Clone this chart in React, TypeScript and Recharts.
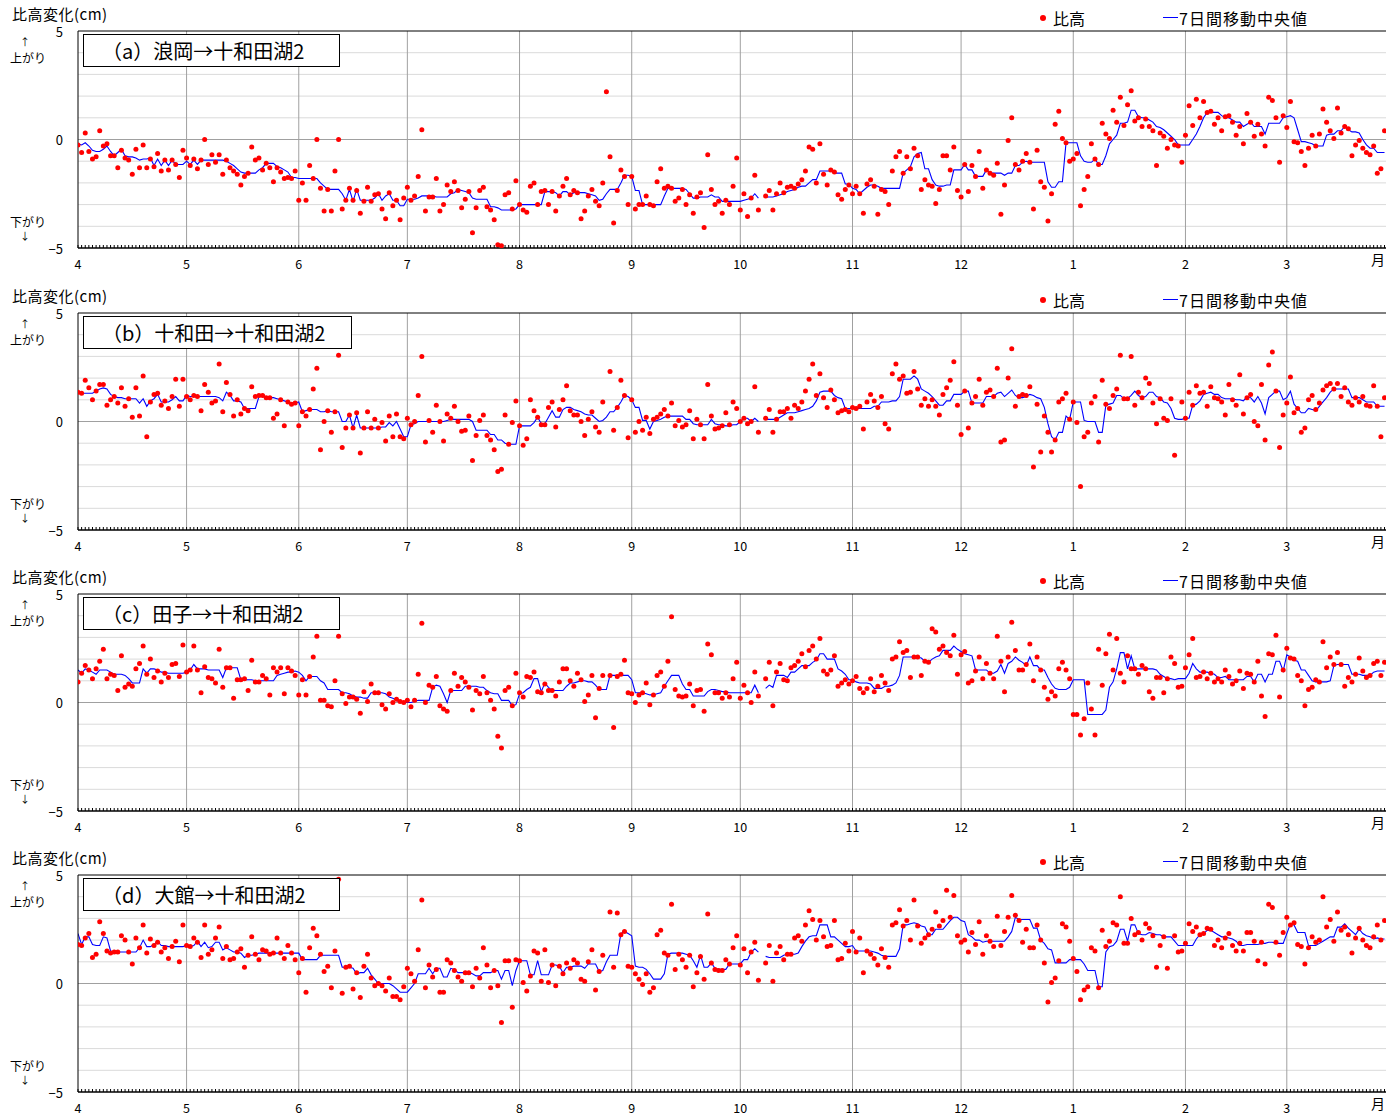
import React from 'react';
import { ComposedChart, Line, XAxis, YAxis, ReferenceLine } from 'recharts';

// Day index 0 = 4/1 ... month starts (days)
const monthStarts = [0, 30, 61, 91, 122, 153, 183, 214, 244, 275, 306, 334];
const monthLabels = ['4', '5', '6', '7', '8', '9', '10', '11', '12', '1', '2', '3'];
const yTicks = [-5, 0, 5];
const yTickLabels = ['−5', '0', '5'];
const gridValues = [-4, -3, -2, -1, 1, 2, 3, 4];
const dayTicks = Array.from({ length: 366 }, (_, i) => i);

const titles = ['（a）浪岡→十和田湖2', '（b）十和田→十和田湖2', '（c）田子→十和田湖2', '（d）大館→十和田湖2'];

// ---------- (a) 浪岡→十和田湖2 ----------
const dotsA: (number | null)[] = [
  -0.25,-0.6,0.3,-0.55,-0.9,-0.8,0.4,-0.3,-0.2,-0.75,-0.75,-1.3,-0.5,-0.85,-0.95,-1.6,-0.45,-1.3,-0.25,-1.3,-0.9,-1.25,-0.65,-1.45,-0.95,-1.4,-0.95,-1.15,-1.75,-0.5,
  -0.85,-1.2,-0.9,-1.35,-0.95,0.0,-1.15,-0.7,-1.05,-0.7,-1.6,-0.95,-1.3,-1.45,-1.6,-2.1,-1.7,-1.55,-0.35,-0.95,-0.85,-1.4,-1.1,-1.3,-1.95,-1.3,-1.5,-1.8,-1.75,-1.8,-1.45,
  -2.8,-2.0,-2.8,-1.2,-1.8,0.0,-2.25,-3.3,-2.3,-3.3,-1.45,0.0,-3.2,-2.8,-2.25,-2.8,-2.35,-3.4,-2.85,-2.2,-2.85,-2.55,-2.5,-3.2,-3.65,-2.45,-3.05,-2.8,-3.7,-2.7,
  -2.2,-2.8,-2.6,-1.7,0.45,-3.3,-2.65,-2.65,-1.8,-3.3,-3.0,-2.1,-2.4,-1.95,-2.35,-3.15,-2.75,-2.4,-4.3,-3.15,-2.35,-2.2,-3.1,-3.25,-3.7,-4.85,-4.9,-2.55,-2.45,-3.2,-1.9,
  -3.0,-3.25,-3.35,-2.15,-2.0,-3.0,-2.4,-2.35,-3.0,-2.4,-3.3,-2.6,-2.15,-1.8,-2.55,-2.35,-2.45,-3.65,-3.3,-2.6,-2.3,-2.85,-3.05,-2.0,2.2,-0.8,-3.85,-2.35,-1.4,-1.7,-3.0,
  -1.7,-3.2,-3.0,-3.0,-2.6,-3.0,-3.05,-1.95,-1.35,-2.25,-2.15,-2.25,-2.85,-2.7,-2.3,-3.0,-2.55,-3.4,-2.65,-2.45,-4.05,-0.7,-2.3,-3.0,-2.85,-3.4,-2.8,-3.0,-2.15,-0.85,
  -3.25,-2.5,-3.55,-2.7,-1.65,-3.25,null,-2.6,-2.35,-3.25,-2.5,-2.0,-2.45,-2.2,-2.15,-2.25,-2.05,-1.85,-1.45,-0.35,-0.45,-2.0,-0.2,-1.6,-2.1,-1.4,-1.5,-2.55,-2.75,-2.3,-2.1,
  -2.5,-2.15,-2.5,-3.4,-2.05,-1.85,-2.15,-3.45,-2.3,-2.4,-3.0,-1.45,-0.8,-0.55,-1.55,-0.8,-1.35,-0.4,-0.75,-2.3,-1.85,-2.1,-2.15,-2.95,-2.3,-0.75,-0.75,-1.4,-0.35,-2.35,
  -2.65,-1.15,-2.4,-1.2,-1.7,-0.55,-2.25,-1.4,-1.55,-1.65,-1.1,-3.45,-2.1,-0.05,1.0,-1.15,-1.4,-1.0,-0.65,-1.05,-3.2,-0.5,-1.95,-2.2,-3.75,-2.5,0.7,1.3,0.05,-0.15,-1.0,
  -0.9,-0.65,-3.05,-2.3,-1.7,-0.2,-0.9,-1.15,0.75,0.25,0.05,1.35,0.8,1.95,0.65,1.6,2.25,0.85,1.0,0.6,0.95,0.6,0.4,-1.2,0.3,0.15,-0.4,0.0,-0.25,-0.3,-1.05,
  0.2,1.55,0.65,1.85,1.0,1.75,1.25,1.3,0.7,1.0,0.4,1.05,1.1,0.8,0.2,0.6,-0.2,1.2,0.8,0.15,0.7,0.25,-0.3,1.95,1.8,1.0,-1.05,1.1,
  0.55,1.75,-0.1,-0.15,-0.55,-1.2,-0.4,0.2,-0.3,0.25,1.4,0.8,0.4,0.05,1.45,0.3,0.6,0.5,-0.75,-0.25,-0.05,-0.4,-0.6,-0.7,-0.3,-1.55,-1.35,0.4,
];
const medA: (number | null)[] = [
  -0.2,-0.25,-0.15,-0.3,-0.5,-0.55,-0.55,-0.45,-0.3,-0.55,-0.75,-0.6,-0.45,-0.75,-0.8,-0.8,-0.85,-0.95,-0.9,-0.9,-0.85,-1.2,-0.9,-1.2,-0.95,-1.2,-0.95,-1.15,-1.15,-1.15,
  -1.0,-1.15,-0.95,-1.15,-0.95,-0.95,-0.95,-0.95,-0.95,-0.95,-0.95,-1.0,-1.1,-1.2,-1.35,-1.5,-1.55,-1.55,-1.55,-1.55,-1.4,-1.3,-1.1,-1.1,-1.1,-1.25,-1.3,-1.4,-1.5,-1.75,-1.75,
  -1.8,-1.8,-1.8,-1.8,-1.8,-1.8,-2.0,-2.15,-2.3,-2.3,-2.3,-2.3,-2.5,-2.8,-2.3,-2.85,-2.3,-2.8,-2.8,-2.8,-2.8,-2.7,-2.5,-2.8,-2.6,-2.5,-2.8,-2.8,-3.05,-3.05,
  -2.75,-2.75,-2.75,-2.7,-2.6,-2.6,-2.6,-2.6,-2.65,-2.65,-2.65,-2.65,-2.5,-2.45,-2.3,-2.35,-2.4,-2.45,-2.7,-2.75,-2.75,-2.75,-2.75,-3.1,-3.1,-3.15,-3.25,-3.25,-3.25,-3.25,-3.2,
  -3.0,-3.0,-3.0,-3.0,-3.0,-3.0,-3.0,-2.4,-2.4,-2.4,-2.45,-2.6,-2.4,-2.4,-2.55,-2.45,-2.45,-2.45,-2.45,-2.5,-2.55,-2.6,-2.8,-2.75,-2.5,-2.3,-2.3,-2.3,-2.0,-1.65,-1.65,
  -1.7,-2.35,-2.35,-3.0,-3.0,-3.0,-3.0,-3.0,-3.0,-2.6,-2.25,-2.25,-2.25,-2.25,-2.25,-2.3,-2.5,-2.7,-2.7,-2.65,-2.65,-2.65,-2.55,-2.65,-2.65,-2.85,-2.85,-2.85,-2.85,-2.85,
  -2.85,-2.8,-2.75,-2.7,-2.5,-2.7,null,-2.65,-2.65,-2.65,-2.6,-2.55,-2.5,-2.4,-2.35,-2.3,-2.2,-2.15,-2.15,-2.0,-1.85,-1.85,-1.45,-1.45,-1.45,-1.45,-1.55,-1.55,-1.55,-2.05,-2.05,
  -2.25,-2.3,-2.5,-2.35,-2.2,-2.1,-2.1,-2.15,-2.25,-2.25,-2.25,-2.25,-2.25,-2.25,-1.55,-1.4,-1.25,-0.8,-0.65,-0.6,-1.35,-1.35,-1.85,-2.1,-2.15,-2.15,-2.1,-2.1,-1.4,-1.4,
  -1.4,-1.15,-1.4,-1.4,-1.7,-1.7,-1.7,-1.4,-1.55,-1.55,-1.55,-1.55,-1.65,-1.55,-1.55,-1.2,-1.2,-1.05,-1.0,-1.05,-1.05,-1.05,-1.05,-1.05,-1.95,-2.2,-2.2,-1.95,-1.95,-0.15,-0.15,
  -0.15,-0.15,-0.75,-1.0,-1.05,-1.05,-0.9,-1.15,-1.15,-0.75,-0.2,0.0,0.2,0.75,0.75,0.8,1.35,1.35,1.05,1.0,1.0,0.9,0.8,0.6,0.55,0.45,0.3,0.15,0.0,-0.25,-0.25,
  -0.25,-0.25,0.0,0.25,0.6,1.0,1.25,1.25,1.25,1.25,1.1,1.0,1.0,0.9,0.8,0.8,0.6,0.7,0.8,0.6,0.6,0.6,0.25,0.75,0.75,0.75,0.75,1.0,
  1.05,1.1,1.0,0.45,-0.1,-0.1,-0.15,-0.2,-0.3,-0.3,-0.3,0.2,0.25,0.25,0.4,0.4,0.6,0.45,0.35,0.35,0.3,0.0,-0.25,-0.4,-0.4,-0.6,-0.6,-0.6,
];

// ---------- (b) 十和田→十和田湖2 ----------
const dotsB: (number | null)[] = [
  1.35,1.3,1.9,1.55,1.0,1.4,1.7,1.7,0.75,1.0,1.15,0.85,1.55,0.7,1.05,0.2,1.55,0.25,2.1,-0.7,0.9,1.25,1.3,0.75,0.95,0.6,1.15,1.95,0.7,1.95,
  1.15,1.0,1.2,1.15,0.5,1.7,1.35,0.85,0.95,2.65,0.45,1.8,1.25,0.25,1.0,0.35,0.6,0.5,1.6,1.15,1.2,1.2,1.1,1.1,0.15,0.35,1.0,-0.2,0.9,0.8,0.85,
  -0.2,0.45,0.25,0.55,1.5,2.45,-1.3,0.0,0.5,-0.5,0.45,3.05,-1.2,-0.3,0.3,-0.3,0.4,-1.45,-0.3,0.45,-0.3,0.1,-0.3,-0.05,-0.9,0.25,-0.7,0.35,-0.7,-0.8,
  0.15,-0.15,0.0,1.2,3.0,-0.95,0.05,-0.5,0.75,0.0,-0.9,0.35,0.15,0.7,0.0,-0.45,-0.4,0.25,-1.8,-0.65,0.05,0.3,-0.65,-0.85,-1.3,-2.3,-2.2,0.3,-1.05,-0.05,0.95,
  -0.2,-1.1,-0.8,1.0,0.5,0.2,-0.15,-0.15,0.65,0.9,-0.25,0.55,1.0,1.65,0.5,0.3,0.3,0.0,-0.65,0.1,0.45,-0.25,-0.5,0.9,null,2.3,-0.4,0.65,1.9,1.2,-0.75,
  1.0,-0.5,0.0,-0.4,0.2,-0.55,0.1,0.2,0.35,0.55,0.25,0.85,-0.2,0.05,-0.25,-0.15,0.5,-0.8,0.1,-0.15,-0.8,1.7,0.25,-0.35,-0.3,-0.2,0.4,-0.15,0.9,0.6,
  0.0,0.15,-0.1,0.0,1.6,-0.5,null,0.15,0.55,-0.5,0.1,0.45,0.45,0.6,0.15,0.75,0.6,0.9,1.4,1.95,2.65,1.2,2.2,1.1,0.65,1.45,1.0,0.4,0.5,0.55,0.45,
  0.65,0.6,0.7,-0.35,0.9,1.25,0.95,0.65,1.15,-0.1,-0.35,2.2,2.65,1.95,2.1,1.3,1.35,2.3,1.5,0.75,1.05,0.7,1.0,0.7,0.3,1.25,1.55,1.9,2.75,0.75,
  -0.6,1.4,-0.3,0.85,1.15,1.95,0.75,1.35,1.45,1.15,2.45,-0.95,-0.85,2.0,3.35,0.7,1.15,1.25,1.2,1.6,-2.1,0.8,-1.4,0.25,-0.5,-1.4,-0.85,0.9,1.05,1.3,0.1,
  0.9,-0.05,-3.0,-0.7,-0.5,0.85,1.15,-0.95,1.9,0.8,0.6,1.2,1.5,3.05,1.05,1.05,3.0,0.75,1.35,1.1,2.0,1.75,0.85,-0.1,1.05,0.15,0.05,1.05,-1.55,null,0.9,
  0.15,1.35,0.75,1.65,1.3,1.35,0.7,1.6,1.1,1.05,0.9,0.3,1.7,1.0,0.75,2.15,0.35,1.1,1.25,0.0,-0.2,1.7,-0.85,2.6,3.2,1.4,-1.2,0.3,
  0.85,2.05,0.4,0.6,-0.5,-0.3,1.0,1.2,0.55,0.85,1.45,1.65,1.75,1.5,1.75,1.15,1.55,0.9,0.75,1.1,0.9,1.15,0.75,0.7,1.65,0.7,-0.7,1.1,
];
const medB: (number | null)[] = [
  1.35,1.3,1.3,1.3,1.3,1.4,1.5,1.55,1.5,1.25,1.15,1.1,1.1,1.05,1.05,1.05,1.05,0.85,1.05,0.7,0.95,1.05,1.25,0.9,0.9,0.9,1.0,1.15,0.95,0.95,
  1.2,1.15,1.15,1.15,1.15,1.15,1.15,1.15,1.15,1.1,0.95,1.35,1.2,0.95,0.95,0.9,0.6,0.6,0.6,0.6,1.15,1.15,1.1,1.1,1.1,1.05,1.0,0.95,0.9,0.85,0.85,
  0.9,0.45,0.5,0.55,0.55,0.55,0.45,0.45,0.5,0.45,0.45,0.45,0.0,0.0,0.3,-0.3,0.3,-0.3,-0.3,-0.3,-0.3,-0.3,-0.3,-0.25,-0.25,-0.05,-0.2,0.0,-0.35,-0.7,
  -0.7,-0.15,-0.1,0.0,0.0,0.0,0.0,0.0,0.0,0.0,0.0,0.05,0.1,0.1,0.1,0.1,0.1,0.1,0.0,-0.4,-0.4,-0.4,-0.4,-0.6,-0.6,-0.85,-0.85,-1.0,-1.05,-1.05,-1.05,
  -0.2,-0.2,-0.2,-0.2,-0.05,0.2,-0.1,-0.1,0.2,0.5,0.2,0.2,0.55,0.65,0.65,0.55,0.5,0.45,0.35,0.3,0.3,0.15,0.0,0.05,0.2,0.45,0.45,0.65,0.9,1.2,1.15,
  1.0,0.65,0.65,0.05,0.05,-0.35,0.0,0.05,0.1,0.2,0.25,0.25,0.25,0.25,0.25,0.1,0.1,-0.1,-0.15,-0.15,-0.15,-0.15,0.1,-0.1,-0.15,-0.15,-0.2,-0.2,-0.15,-0.15,
  0.0,0.15,0.15,0.0,0.15,0.0,null,0.1,0.1,0.1,0.1,0.2,0.3,0.4,0.4,0.4,0.45,0.5,0.55,0.6,0.7,0.95,1.35,1.4,1.4,1.4,1.2,1.1,1.05,0.6,0.6,
  0.6,0.6,0.6,0.6,0.6,0.6,0.7,0.7,0.9,0.9,0.9,0.95,0.95,1.15,1.95,1.95,1.95,2.1,1.95,1.5,1.4,1.3,1.15,0.95,0.75,0.75,0.95,0.95,1.25,1.25,
  1.25,1.4,1.4,0.85,0.85,0.85,0.85,1.15,1.15,1.15,1.3,1.35,1.15,1.3,1.45,1.2,1.1,1.1,1.15,1.25,1.2,1.1,1.05,0.65,-0.1,-0.7,-0.85,-0.5,-0.5,0.25,0.1,
  0.9,0.9,0.9,0.05,0.0,0.0,0.0,-0.5,-0.5,0.75,0.8,0.85,1.2,1.2,1.05,1.05,1.2,1.4,1.2,1.1,1.15,1.35,1.35,1.15,1.1,0.9,0.85,0.6,0.15,0.1,0.1,
  0.15,0.15,0.75,0.8,0.95,1.25,1.3,1.35,1.25,1.25,1.1,1.05,1.05,1.05,1.0,1.0,0.95,1.15,1.1,0.9,1.15,0.85,0.35,1.1,1.25,1.4,1.4,1.0,
  1.1,1.4,0.8,0.6,0.4,0.4,0.6,0.55,0.5,0.7,0.9,1.1,1.35,1.5,1.5,1.5,1.5,1.5,1.1,1.1,1.1,1.0,0.9,0.9,0.9,0.7,0.7,0.7,
];

// ---------- (c) 田子→十和田湖2 ----------
const dotsC: (number | null)[] = [
  0.95,1.35,1.7,1.5,1.1,1.55,1.9,2.45,1.1,1.3,1.25,0.55,2.15,0.7,0.85,0.75,1.55,1.8,2.6,1.3,2.0,1.15,1.45,0.95,1.35,1.15,1.75,1.8,1.2,2.65,
  1.4,1.5,2.6,1.5,0.45,1.65,1.15,1.1,0.9,2.45,0.7,1.6,1.6,0.2,1.05,1.05,1.1,0.55,1.95,0.95,0.95,1.25,1.1,0.35,1.6,1.4,1.6,0.4,1.6,1.45,1.25,
  0.35,1.05,0.35,1.2,2.1,3.05,0.1,0.1,-0.15,-0.2,1.0,3.05,0.4,-0.05,0.25,0.25,0.15,-0.5,0.5,0.05,0.85,0.45,0.45,-0.1,-0.3,0.4,0.0,0.15,0.05,0.0,
  0.1,-0.2,0.1,1.3,3.65,0.0,0.8,0.7,1.2,-0.15,-0.3,-0.4,0.55,1.35,0.75,1.15,0.95,0.7,-0.35,0.55,0.4,1.2,0.45,0.1,-0.3,-1.55,-2.1,0.55,0.7,-0.15,1.35,
  0.45,0.25,1.2,1.15,1.4,0.5,0.45,0.85,0.55,0.55,0.3,0.95,1.55,1.55,1.0,0.75,1.35,1.05,0.05,0.35,1.25,-0.7,0.65,1.25,null,1.25,-1.15,1.2,1.3,1.95,0.45,
  0.4,0.0,0.35,0.45,0.9,-0.1,0.35,1.25,1.4,0.75,1.9,3.95,0.6,0.3,0.25,0.3,0.85,-0.15,0.55,0.6,-0.4,2.7,2.2,0.45,0.45,0.2,0.45,0.25,1.1,1.85,
  0.2,0.8,0.45,0.0,1.4,0.3,null,1.1,1.85,-0.15,1.4,1.8,1.05,1.0,1.6,1.7,1.9,2.25,1.65,2.4,2.6,2.0,2.95,1.45,1.3,1.5,2.15,0.75,0.9,1.05,0.85,
  1.0,1.2,0.65,0.45,0.65,1.1,0.5,0.75,1.25,0.9,0.55,2.0,2.1,2.8,2.3,2.4,1.15,2.1,2.1,1.25,1.9,1.85,3.4,3.25,2.45,2.6,2.3,2.15,3.1,1.3,
  2.2,2.35,0.9,1.0,1.45,2.1,1.1,1.8,1.35,1.1,3.05,1.9,0.5,2.1,3.7,2.4,1.5,1.5,1.75,2.7,1.0,2.1,1.5,0.7,0.15,0.5,0.3,1.55,1.85,1.5,1.1,
  -0.55,-0.55,-1.5,-0.75,0.9,-0.3,-1.5,2.45,0.8,2.25,3.15,1.5,2.95,1.35,0.95,2.15,1.55,1.55,1.3,1.7,1.55,0.5,0.2,1.15,1.15,0.45,1.1,2.1,1.8,0.7,0.75,
  1.6,2.2,2.95,1.15,1.2,1.4,1.1,1.35,0.95,1.1,0.95,1.5,1.2,0.85,1.0,1.45,0.65,1.35,1.3,0.95,1.9,0.3,-0.65,2.25,2.2,3.1,0.25,1.5,
  2.5,2.05,2.0,1.25,1.0,-0.15,0.6,0.7,1.05,0.95,2.8,1.6,2.1,1.75,2.3,1.75,0.75,1.15,0.95,1.3,2.05,1.45,1.15,1.25,1.8,1.9,1.25,1.85,
];
const medC: (number | null)[] = [
  1.5,1.35,1.55,1.5,1.4,1.3,1.5,1.5,1.5,1.4,1.3,1.3,1.3,1.25,1.1,0.9,0.9,0.9,1.55,1.35,1.55,1.55,1.5,1.4,1.4,1.35,1.35,1.35,1.35,1.35,
  1.4,1.5,1.75,1.55,1.55,1.55,1.5,1.5,1.5,1.5,1.15,1.6,1.6,1.6,1.6,1.05,1.05,1.05,1.05,1.0,1.0,1.0,1.0,1.0,1.0,1.25,1.3,1.35,1.4,1.4,1.45,
  1.4,1.25,1.0,1.2,1.2,1.2,1.0,0.9,0.6,0.6,0.6,0.6,0.45,0.45,0.4,0.3,0.25,0.25,0.2,0.2,0.45,0.45,0.45,0.45,0.4,0.25,0.2,0.1,0.0,0.0,
  0.0,0.0,0.05,0.1,0.1,0.1,0.1,0.7,0.8,0.75,0.4,0.0,0.55,0.55,0.55,0.55,0.75,0.75,0.75,0.75,0.7,0.7,0.55,0.45,0.4,0.4,0.1,0.1,0.1,-0.15,-0.1,
  0.4,0.45,0.6,0.7,1.1,1.1,0.5,0.9,0.7,0.55,0.55,0.55,0.55,0.75,0.9,0.9,0.95,1.0,1.0,0.95,0.95,0.8,0.6,0.6,0.6,1.25,1.25,1.25,1.25,1.25,1.25,
  1.05,0.45,0.45,0.45,0.4,0.35,0.35,0.4,0.45,0.75,1.0,1.25,1.25,1.25,0.85,0.6,0.6,0.3,0.3,0.3,0.3,0.5,0.6,0.6,0.55,0.5,0.5,0.45,0.45,0.45,
  0.45,0.45,0.45,0.45,0.8,0.45,null,0.65,0.8,0.7,1.25,1.25,1.25,1.15,1.4,1.4,1.55,1.7,1.7,1.7,1.85,1.95,2.25,2.25,2.0,2.0,2.0,1.55,1.45,1.3,1.05,
  1.05,0.95,0.9,0.9,0.9,0.85,0.65,0.65,0.65,0.75,0.75,0.8,0.9,1.25,2.1,2.1,2.1,2.1,2.1,2.05,1.9,1.85,2.0,2.1,2.15,2.4,2.4,2.4,2.6,2.45,
  2.35,2.25,2.2,2.15,1.5,1.5,1.5,1.5,1.35,1.35,1.45,1.75,1.35,1.8,1.9,2.1,1.95,1.85,1.7,2.1,1.7,1.7,1.5,1.5,1.15,0.85,0.65,0.6,0.6,0.6,0.7,
  1.05,1.05,1.05,1.05,-0.55,-0.55,-0.55,-0.55,-0.55,-0.35,0.7,0.95,1.55,2.3,2.3,1.55,2.15,1.55,1.55,1.55,1.55,1.55,1.55,1.5,1.3,1.2,1.1,1.1,1.05,1.1,1.1,
  1.1,1.35,1.8,1.55,1.4,1.4,1.4,1.35,1.3,1.15,1.15,1.2,1.05,1.05,1.05,1.05,1.05,1.2,1.2,0.95,1.3,1.3,0.95,1.3,1.3,1.9,1.9,1.45,
  2.2,2.1,1.95,1.9,1.5,1.5,1.25,1.0,0.95,0.95,0.95,0.95,1.0,1.7,1.75,1.75,1.75,1.75,1.3,1.3,1.3,1.25,1.25,1.25,1.4,1.45,1.45,1.45,
];

// ---------- (d) 大館→十和田湖2 ----------
const dotsD: (number | null)[] = [
  1.8,1.75,2.1,2.3,1.2,1.35,2.85,2.3,1.5,1.4,1.45,1.45,2.2,2.0,1.45,0.9,2.1,1.65,2.7,1.4,2.05,1.75,1.9,1.45,1.65,1.15,1.7,1.95,1.0,2.7,
  1.75,1.7,2.1,1.9,1.2,2.7,1.35,1.55,2.1,2.6,1.15,1.7,1.1,1.15,1.45,1.6,0.75,1.3,2.15,1.35,1.1,1.55,1.5,1.35,1.4,2.1,1.4,1.15,1.75,1.4,1.1,
  0.5,1.15,-0.4,1.65,2.55,2.2,1.35,0.55,0.8,-0.2,1.5,4.8,-0.45,0.75,0.8,-0.25,0.5,-0.65,0.8,1.35,0.25,-0.1,0.0,-0.1,-0.35,0.25,-0.6,-0.6,-0.75,-0.15,
  0.7,0.45,0.1,1.55,3.85,-0.2,0.85,0.3,0.65,-0.4,-0.4,1.1,0.95,0.6,0.3,0.1,0.5,0.5,-0.15,0.7,0.25,1.65,0.85,-0.2,0.6,-0.1,-1.8,1.05,1.05,-1.1,1.1,
  1.05,0.05,-0.35,0.35,1.5,1.4,0.1,1.55,0.05,0.85,-0.1,0.8,0.45,0.95,0.7,1.1,0.95,0.2,0.1,1.0,1.55,-0.3,0.55,1.3,null,3.3,0.75,3.25,2.25,2.4,0.8,
  0.75,0.45,0.2,-0.05,0.45,-0.4,-0.2,2.25,2.45,1.4,1.3,3.65,0.65,1.35,1.1,0.75,1.3,-0.15,0.5,1.25,0.2,3.2,0.95,0.65,0.6,0.6,1.1,0.9,1.65,2.2,
  0.85,1.6,0.5,1.45,1.9,0.15,null,0.95,1.75,0.1,1.4,1.7,1.1,1.35,1.35,2.1,2.2,1.95,2.7,3.35,2.95,2.0,2.9,2.15,1.7,1.75,2.9,1.1,1.15,1.85,1.5,
  2.4,1.45,2.1,0.5,1.5,1.35,1.15,0.85,1.6,1.2,0.75,2.7,2.8,3.4,2.65,2.9,2.0,3.85,2.65,1.85,2.1,2.25,2.5,3.3,2.65,2.9,4.3,3.05,4.05,2.2,
  1.9,2.0,1.45,2.35,1.8,2.85,1.35,2.2,1.95,1.7,3.1,1.75,2.4,3.05,4.05,3.15,2.9,1.9,2.5,1.65,1.65,2.7,2.0,0.95,-0.85,0.05,0.25,1.05,2.75,2.6,1.95,
  1.15,0.55,-0.75,-0.3,-0.15,1.65,1.5,-0.2,2.45,1.7,1.95,2.8,2.7,4.0,1.85,1.85,3.0,2.25,2.35,2.0,2.75,2.55,2.2,0.75,1.75,2.15,0.7,null,2.2,1.45,1.5,
  1.85,2.75,2.4,2.6,2.25,2.3,2.55,2.5,1.75,2.0,1.65,2.1,2.3,1.75,1.5,1.85,1.5,2.35,2.35,1.95,1.05,1.9,0.9,3.65,3.5,1.9,1.3,2.35,
  3.05,2.7,2.8,1.8,1.7,0.9,1.65,2.15,1.9,2.0,4.0,2.6,2.95,1.95,3.3,2.45,2.6,2.25,1.4,2.1,2.55,2.0,1.75,1.65,2.15,2.7,2.0,2.9,
];
const medD: (number | null)[] = [
  2.3,1.8,2.15,2.15,1.8,1.75,1.75,2.15,2.1,1.5,1.45,1.45,1.45,1.45,1.45,1.45,1.45,1.65,2.0,1.7,1.7,1.8,1.95,1.75,1.75,1.7,1.7,1.7,1.7,1.7,
  1.75,1.7,1.75,1.95,1.7,1.9,1.65,1.7,1.9,1.9,1.55,1.65,1.55,1.45,1.45,1.4,1.2,1.3,1.3,1.35,1.4,1.4,1.4,1.4,1.4,1.4,1.4,1.4,1.4,1.4,1.4,
  1.4,1.1,1.1,1.1,1.1,1.1,1.3,1.3,1.3,1.3,1.3,1.3,0.75,0.75,0.75,0.7,0.45,0.5,0.5,0.7,0.4,0.2,0.0,0.0,0.0,0.0,-0.1,-0.25,-0.4,-0.4,
  -0.4,-0.2,0.0,0.45,0.45,0.45,0.7,0.45,0.7,0.7,0.3,0.3,0.7,0.65,0.5,0.5,0.5,0.5,0.45,0.35,0.35,0.5,0.5,0.5,0.6,0.6,0.2,0.6,0.6,-0.1,0.6,
  1.05,1.05,1.05,0.4,0.4,1.05,0.4,0.4,0.4,0.85,0.85,0.8,0.5,0.75,0.75,0.8,0.8,0.8,0.7,0.9,0.9,0.9,0.55,0.6,1.0,1.3,1.3,1.3,2.3,2.4,2.3,
  2.2,0.8,0.75,0.75,0.65,0.45,0.2,0.2,0.2,0.45,1.35,1.4,1.4,1.4,1.4,1.35,1.3,1.05,0.75,1.3,0.75,0.75,0.95,0.7,0.65,0.65,0.65,0.9,0.9,0.9,
  0.9,1.1,1.1,1.45,1.6,1.45,null,1.25,1.2,1.2,1.2,1.2,1.3,1.35,1.35,1.35,1.4,1.7,1.95,2.15,2.2,2.2,2.7,2.7,2.7,2.15,2.15,2.0,1.85,1.7,1.7,
  1.75,1.5,1.5,1.5,1.5,1.5,1.45,1.4,1.3,1.25,1.25,1.25,1.25,1.6,2.7,2.7,2.75,2.8,2.75,2.65,2.6,2.25,2.25,2.5,2.5,2.5,2.7,2.9,3.05,3.05,
  2.9,2.85,2.25,2.15,2.0,2.0,1.9,1.95,1.95,1.95,1.95,1.95,1.95,2.15,2.4,3.05,2.95,2.95,2.95,2.95,2.55,2.55,2.0,1.85,1.6,1.55,0.95,0.95,0.95,0.95,1.1,
  1.1,1.1,1.1,0.9,0.6,0.6,0.6,-0.15,-0.15,1.45,1.7,1.75,1.95,2.5,2.5,1.95,2.7,2.7,2.3,2.25,2.25,2.35,2.3,2.25,2.25,2.15,2.15,2.15,1.95,1.75,1.75,
  1.75,1.75,1.75,2.05,2.25,2.3,2.45,2.45,2.35,2.25,2.15,2.15,2.1,2.05,1.95,1.75,1.75,1.8,1.8,1.8,1.8,1.85,1.85,1.9,1.9,1.85,1.85,1.85,
  2.3,2.75,2.7,2.35,2.35,2.35,1.75,1.75,1.75,1.85,1.95,2.05,2.15,2.15,2.6,2.6,2.75,2.55,2.4,2.25,2.5,2.3,2.2,2.15,2.05,2.1,2.05,2.05,
];

const panelDots = [dotsA, dotsB, dotsC, dotsD];
const panelMeds = [medA, medB, medC, medD];

// layout
const panelTops = [0, 282, 563, 844];
const boxWidths = [257, 269, 257, 257];
const FONT = '"Noto Sans CJK JP", "Noto Sans", sans-serif';

const XTick = (props: any) => {
  const { x, y, payload } = props;
  const idx = monthStarts.indexOf(payload.value);
  if (idx < 0) return <g />;
  return (
    <text x={x} y={y + 16} textAnchor="middle" dominantBaseline="central" fontSize={12.5} fill="#000" fontFamily={FONT}>
      {monthLabels[idx]}
    </text>
  );
};

const YTick = (props: any) => {
  const { x, y, payload } = props;
  const idx = yTicks.indexOf(payload.value);
  return (
    <text x={x - 7} y={y} textAnchor="end" dominantBaseline="central" fontSize={13} fill="#000" fontFamily={FONT}>
      {yTickLabels[idx]}
    </text>
  );
};

function Panel({ index }: { index: number }) {
  const dots = panelDots[index];
  const meds = panelMeds[index];
  const data = dots.map((v, i) => ({ day: i, dot: v, med: meds[i] }));
  return (
    <div style={{ position: 'absolute', left: 0, top: panelTops[index], width: 1386, height: 281, overflow: 'hidden' }}>
      <ComposedChart width={1400} height={281} data={data} margin={{ top: 31, right: 1, bottom: 8, left: 48 }}>
        {gridValues.map((v) => (
          <ReferenceLine key={'g' + v} y={v} stroke="#dadada" strokeWidth={1} />
        ))}
        {monthStarts.slice(1).map((d) => (
          <ReferenceLine key={'m' + d} x={d} stroke="#a0a0a0" strokeWidth={1} />
        ))}
        <ReferenceLine y={0} stroke="#a0a0a0" strokeWidth={1} />
        <ReferenceLine y={5} stroke="#000" strokeWidth={1} />
        <XAxis
          type="number"
          dataKey="day"
          domain={[0, 365]}
          ticks={dayTicks}
          interval={0}
          height={25}
          tickSize={-3}
          tickMargin={2}
          tickLine={{ stroke: '#000' }}
          axisLine={{ stroke: '#000', strokeWidth: 1.5 }}
          tick={XTick}
          allowDataOverflow
        />
        <YAxis
          type="number"
          domain={[-5, 5]}
          ticks={yTicks}
          width={30}
          tickSize={6}
          tickLine={false}
          axisLine={{ stroke: '#000' }}
          tick={YTick}
          allowDataOverflow
        />
        <Line
          dataKey="dot"
          stroke="none"
          dot={{ r: 2.5, fill: '#ff0000', stroke: 'none' }}
          activeDot={false}
          isAnimationActive={false}
          legendType="none"
        />
        <Line
          dataKey="med"
          stroke="#0000ff"
          strokeWidth={1.1}
          dot={false}
          activeDot={false}
          connectNulls={false}
          isAnimationActive={false}
          legendType="none"
        />
      </ComposedChart>

      {/* axis title */}
      <div style={{ position: 'absolute', left: 12, top: 5, fontSize: 15, lineHeight: '18px', letterSpacing: 0.5, color: '#000' }}>
        比高変化(cm)
      </div>
      {/* up / down labels */}
      <div style={{ position: 'absolute', left: 20, top: 37, fontSize: 10, lineHeight: '10px' }}>↑</div>
      <div style={{ position: 'absolute', left: 10, top: 51, fontSize: 12, lineHeight: '13px' }}>上がり</div>
      <div style={{ position: 'absolute', left: 10, top: 215, fontSize: 12, lineHeight: '13px' }}>下がり</div>
      <div style={{ position: 'absolute', left: 20, top: 231, fontSize: 10, lineHeight: '10px' }}>↓</div>
      {/* title box */}
      <div
        style={{
          position: 'absolute',
          left: 83,
          top: 34,
          width: boxWidths[index],
          height: 33,
          boxSizing: 'border-box',
          border: '1px solid #000',
          background: '#fff',
          display: 'flex',
          alignItems: 'center',
          paddingLeft: 18,
          fontSize: 20,
          whiteSpace: 'nowrap',
        }}
      >
        {titles[index]}
      </div>
      {/* legend */}
      <div style={{ position: 'absolute', left: 1040, top: 15, width: 6, height: 6, borderRadius: 3, background: '#ff0000' }} />
      <div style={{ position: 'absolute', left: 1053, top: 8, fontSize: 16, lineHeight: '20px' }}>比高</div>
      <div style={{ position: 'absolute', left: 1163, top: 17, width: 15, height: 0, borderTop: '1.5px solid #0000ff' }} />
      <div style={{ position: 'absolute', left: 1179, top: 8, fontSize: 16, lineHeight: '20px', letterSpacing: 1 }}>7日間移動中央値</div>
      {/* month unit */}
      <div style={{ position: 'absolute', left: 1371, top: 251, fontSize: 14, lineHeight: '16px' }}>月</div>
    </div>
  );
}

export default function App() {
  return (
    <div style={{ position: 'relative', width: 1386, height: 1116, overflow: 'hidden', background: '#fff', fontFamily: FONT, color: '#000' }}>
      <style>{'html,body{margin:0;padding:0;overflow:hidden;background:#fff;}'}</style>
      {[0, 1, 2, 3].map((i) => (
        <Panel key={i} index={i} />
      ))}
    </div>
  );
}
